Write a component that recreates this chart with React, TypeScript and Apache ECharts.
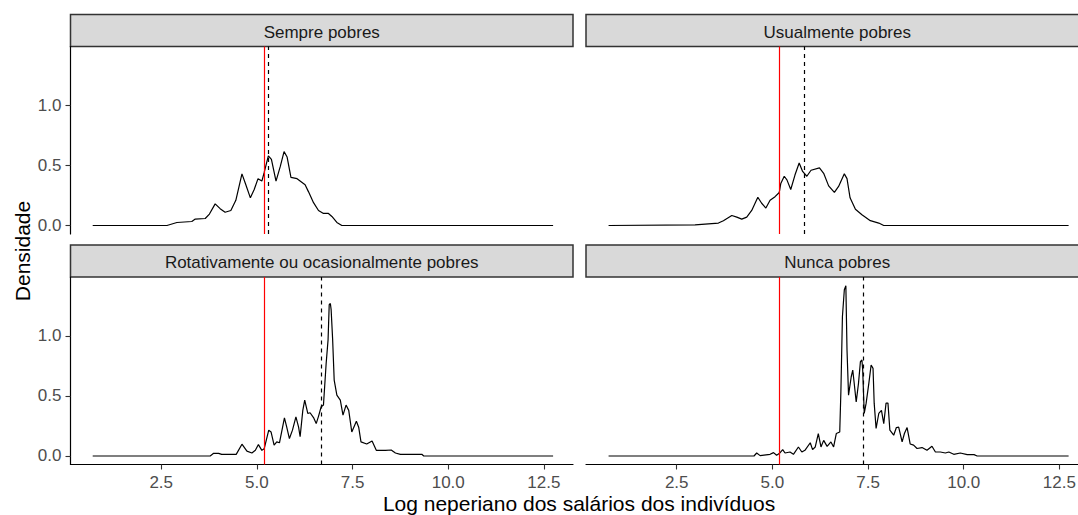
import React, { useEffect, useRef } from "react";
import * as echarts from "echarts";

const PANEL_TITLES = [
  "Sempre pobres",
  "Usualmente pobres",
  "Rotativamente ou ocasionalmente pobres",
  "Nunca pobres",
];
const POVERTY_LINE = 5.19;
const PANEL_MEANS = [5.29, 5.83, 6.68, 7.38];
const X_TICKS = [2.5, 5, 7.5, 10, 12.5];
const Y_TICKS = [0, 0.5, 1];
const X_TITLE = "Log neperiano dos salários dos indivíduos";
const Y_TITLE = "Densidade";

const sempreX = [0.71, 2.65, 2.91, 3.3, 3.39, 3.65, 3.76, 3.91, 4.04, 4.17, 4.32, 4.45, 4.61, 4.7, 4.83, 4.93, 5.03, 5.13, 5.19, 5.3, 5.38, 5.5, 5.61, 5.71, 5.79, 5.89, 6.05, 6.26, 6.35, 6.48, 6.61, 6.74, 6.87, 6.96, 7.09, 7.22, 12.74];
const sempreY = [0, 0, 0.025, 0.033, 0.053, 0.058, 0.095, 0.18, 0.14, 0.11, 0.125, 0.21, 0.43, 0.35, 0.23, 0.3, 0.39, 0.37, 0.44, 0.58, 0.55, 0.37, 0.49, 0.615, 0.57, 0.4, 0.39, 0.34, 0.28, 0.19, 0.125, 0.1, 0.1, 0.075, 0.025, 0, 0];

const usualX = [0.72, 2.98, 3.59, 3.72, 3.94, 4.07, 4.2, 4.33, 4.46, 4.62, 4.72, 4.83, 4.94, 5.07, 5.18, 5.22, 5.31, 5.38, 5.48, 5.59, 5.7, 5.79, 5.9, 6.01, 6.23, 6.34, 6.47, 6.62, 6.73, 6.88, 6.95, 7.03, 7.17, 7.34, 7.56, 7.78, 7.91, 12.74];
const usualY = [0, 0.005, 0.02, 0.04, 0.083, 0.07, 0.053, 0.07, 0.125, 0.235, 0.185, 0.145, 0.21, 0.24, 0.275, 0.35, 0.41, 0.38, 0.3, 0.42, 0.52, 0.45, 0.41, 0.46, 0.48, 0.435, 0.33, 0.275, 0.325, 0.43, 0.39, 0.23, 0.135, 0.09, 0.04, 0.02, 0, 0];

const rotX = [0.71, 3.78, 3.87, 4.0, 4.08, 4.46, 4.61, 4.74, 4.87, 4.96, 5.04, 5.13, 5.19, 5.31, 5.37, 5.45, 5.52, 5.59, 5.72, 5.78, 5.85, 5.93, 6.02, 6.09, 6.13, 6.2, 6.25, 6.33, 6.39, 6.48, 6.55, 6.61, 6.68, 6.74, 6.81, 6.86, 6.89, 6.92, 6.94, 6.98, 7.02, 7.09, 7.18, 7.25, 7.33, 7.4, 7.48, 7.6, 7.66, 7.72, 7.87, 8.01, 8.12, 8.36, 8.51, 8.62, 8.75, 9.31, 9.36, 12.74];
const rotY = [0, 0, 0.022, 0.022, 0.013, 0.013, 0.098, 0.04, 0.025, 0.047, 0.095, 0.047, 0.06, 0.215, 0.2, 0.09, 0.117, 0.11, 0.318, 0.24, 0.145, 0.215, 0.326, 0.24, 0.16, 0.38, 0.465, 0.354, 0.36, 0.32, 0.27, 0.33, 0.41, 0.425, 0.77, 0.967, 1.26, 1.27, 1.22, 0.967, 0.632, 0.507, 0.465, 0.34, 0.424, 0.38, 0.2, 0.29, 0.24, 0.117, 0.1, 0.125, 0.047, 0.047, 0.05, 0.025, 0.014, 0.014, 0, 0];

const nuncaX = [0.72, 4.52, 4.59, 4.68, 4.94, 5.03, 5.11, 5.18, 5.27, 5.33, 5.46, 5.55, 5.68, 5.77, 5.85, 5.99, 6.05, 6.12, 6.2, 6.27, 6.34, 6.43, 6.53, 6.6, 6.67, 6.76, 6.79, 6.83, 6.88, 6.92, 6.95, 6.99, 7.06, 7.1, 7.14, 7.19, 7.25, 7.3, 7.34, 7.36, 7.4, 7.45, 7.52, 7.58, 7.63, 7.66, 7.71, 7.78, 7.85, 7.91, 7.97, 8.02, 8.07, 8.17, 8.24, 8.3, 8.39, 8.45, 8.52, 8.6, 8.69, 8.78, 8.91, 9.04, 9.17, 9.26, 9.39, 9.52, 9.61, 9.74, 9.91, 10.09, 10.27, 10.35, 12.74];
const nuncaY = [0, 0, 0.025, 0.003, 0.014, 0.028, 0.006, 0.02, 0.053, 0.025, 0.033, 0.014, 0.075, 0.033, 0.047, 0.11, 0.053, 0.075, 0.187, 0.075, 0.13, 0.08, 0.117, 0.075, 0.187, 0.2, 0.535, 1.16, 1.385, 1.418, 0.883, 0.507, 0.66, 0.716, 0.6, 0.45, 0.605, 0.785, 0.8, 0.716, 0.354, 0.44, 0.605, 0.758, 0.73, 0.44, 0.229, 0.354, 0.38, 0.27, 0.44, 0.44, 0.215, 0.173, 0.237, 0.24, 0.117, 0.187, 0.237, 0.1, 0.09, 0.062, 0.07, 0.047, 0.081, 0.033, 0.033, 0.025, 0.033, 0.014, 0.025, 0.011, 0.011, 0, 0];

const PANEL_X = [sempreX, usualX, rotX, nuncaX];
const PANEL_Y = [sempreY, usualY, rotY, nuncaY];

const FONT = '"Liberation Sans", Arial, Helvetica, sans-serif';
const X_MIN = 0.13;
const X_MAX = 13.26;
const Y_MIN = -0.071;
const Y_MAX = 1.491;

const PANEL_W = 502.5;
const PANEL_H = 187.5;
const LEFTS = [70.5, 586, 70.5, 586];
const TOPS = [46.5, 46.5, 277, 277];
const STRIP_H = 32;

export default function App() {
  const ref = useRef<HTMLDivElement>(null);

  useEffect(() => {
    document.body.style.margin = "0";
    if (!ref.current) return;
    const chart = echarts.init(ref.current, undefined, { renderer: "svg" });

    const grids = LEFTS.map((l, i) => ({
      left: l,
      top: TOPS[i],
      width: PANEL_W,
      height: PANEL_H,
      containLabel: false,
      outerBoundsMode: "none",
    }));

    const xAxes = LEFTS.map((_, i) => {
      const bottom = i >= 2;
      return {
        type: "value",
        gridIndex: i,
        min: X_MIN,
        max: X_MAX,
        show: bottom,
        splitLine: { show: false },
        axisLine: { show: bottom, onZero: false, lineStyle: { color: "#000", width: 1.2 } },
        axisTick: {
          show: bottom,
          customValues: X_TICKS,
          length: 5,
          lineStyle: { color: "#333", width: 1.1 },
        },
        axisLabel: {
          show: bottom,
          customValues: X_TICKS,
          formatter: (v: number) => v.toFixed(1),
          color: "#4D4D4D",
          fontSize: 17,
          fontFamily: FONT,
          margin: 9,
        },
      };
    });

    const yAxes = LEFTS.map((_, i) => {
      const left = i % 2 === 0;
      return {
        type: "value",
        gridIndex: i,
        min: Y_MIN,
        max: Y_MAX,
        show: left,
        splitLine: { show: false },
        axisLine: { show: left, onZero: false, lineStyle: { color: "#000", width: 1.2 } },
        axisTick: {
          show: left,
          customValues: Y_TICKS,
          length: 5,
          lineStyle: { color: "#333", width: 1.1 },
        },
        axisLabel: {
          show: left,
          customValues: Y_TICKS,
          formatter: (v: number) => v.toFixed(1),
          color: "#4D4D4D",
          fontSize: 17,
          fontFamily: FONT,
          margin: 9,
        },
      };
    });

    const series = PANEL_X.map((xs, i) => ({
      type: "line",
      xAxisIndex: i,
      yAxisIndex: i,
      data: xs.map((x, k) => [x, PANEL_Y[i][k]]),
      showSymbol: false,
      symbol: "none",
      smooth: false,
      lineStyle: { color: "#000", width: 1.2 },
      silent: true,
      markLine: {
        silent: true,
        symbol: "none",
        label: { show: false },
        animation: false,
        data: [
          { xAxis: POVERTY_LINE, lineStyle: { color: "#FF0000", type: "solid", width: 1.2 } },
          { xAxis: PANEL_MEANS[i], lineStyle: { color: "#000", type: [4, 4], width: 1.2 } },
        ],
      },
    }));

    const graphics: any[] = [];
    LEFTS.forEach((l, i) => {
      const top = TOPS[i] - STRIP_H;
      graphics.push({
        type: "rect",
        shape: { x: l, y: top, width: PANEL_W, height: STRIP_H },
        style: { fill: "#D9D9D9", stroke: "#333333", lineWidth: 1.5 },
        silent: true,
      });
      graphics.push({
        type: "text",
        x: l + PANEL_W / 2,
        y: top + STRIP_H / 2 + 1.5,
        style: {
          text: PANEL_TITLES[i],
          fill: "#1A1A1A",
          fontSize: 17,
          fontFamily: FONT,
          textAlign: "center",
          textVerticalAlign: "middle",
        },
        silent: true,
      });
    });
    graphics.push({
      type: "text",
      x: 579,
      y: 503.5,
      style: {
        text: X_TITLE,
        fill: "#000",
        fontSize: 21,
        fontFamily: FONT,
        textAlign: "center",
        textVerticalAlign: "middle",
      },
      silent: true,
    });
    graphics.push({
      type: "text",
      x: 22,
      y: 251,
      rotation: Math.PI / 2,
      style: {
        text: Y_TITLE,
        fill: "#000",
        fontSize: 21,
        fontFamily: FONT,
        textAlign: "center",
        textVerticalAlign: "middle",
      },
      silent: true,
    });

    chart.setOption({
      animation: false,
      backgroundColor: "#FFFFFF",
      grid: grids,
      xAxis: xAxes,
      yAxis: yAxes,
      series,
      graphic: graphics,
    });

    return () => chart.dispose();
  }, []);

  return (
    <div
      ref={ref}
      style={{ position: "absolute", left: 0, top: 0, width: 1078, height: 515 }}
    />
  );
}
